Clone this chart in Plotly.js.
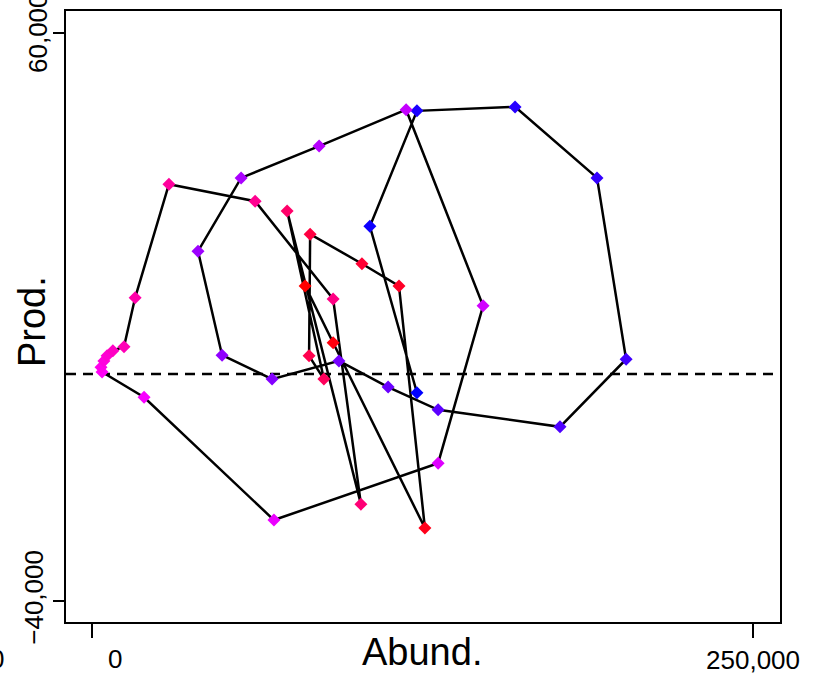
<!DOCTYPE html>
<html>
<head>
<meta charset="utf-8">
<script src="https://cdn.plot.ly/plotly-3.0.1.min.js"></script>
<style>html,body{margin:0;padding:0;background:#fff;}#chart{width:817px;height:675px;}</style>
</head>
<body>
<div id="chart"></div>
<script>
// Abundance (x) and production anomaly (y), in the order the path visits them
const abund = [122900, 105100, 122900, 160000, 191000, 202000, 177000, 130900, 112000, 93400,
               68100, 49200, 40100, 56400, 85900, 118800, 147900, 130900, 68800, 19700,
               3800, 3400, 4500, 5700, 7900, 12100, 16300, 29100, 61700, 91200,
               101700, 73800, 87700, 82100, 82500, 102100, 116100, 125900, 91200, 80600];
const prod  = [-3300, 26000, 46300, 47000, 34500, 2600, -9300, -6300, -2300, 2300,
               -900, 3300, 21600, 34500, 40100, 46500, 12000, -15700, -25700, -4100,
               350, 1200, 2300, 3200, 4100, 4800, 13400, 33400, 30400, 13200,
               -22900, 28700, -900, 3200, 24600, 19400, 15500, -27100, 5500, 15500];
const xTickVals = [0, 250000];
const xTickText = ['', '250,000'];
const yTickVals = [-40000, 60000];
const yTickText = ['\u221240,000', ''];

const order = abund.map((_, i) => i);
const font = 'Liberation Sans, Arial, sans-serif';

const trace = {
  x: abund, y: prod,
  mode: 'lines+markers',
  type: 'scatter',
  line: {color: 'black', width: 2.5},
  marker: {
    symbol: 'diamond', size: 10,
    color: order, cmin: 0, cmax: abund.length - 1,
    colorscale: [[0, 'rgb(0,0,255)'], [0.5, 'rgb(255,0,255)'], [1, 'rgb(255,0,0)']],
    line: {width: 0}
  },
  hoverinfo: 'x+y',
  showlegend: false
};

const layout = {
  width: 817, height: 675,
  margin: {l: 66, r: 37, t: 11, b: 53, pad: 0},
  paper_bgcolor: 'white', plot_bgcolor: 'white',
  font: {family: font, color: 'black', size: 26},
  xaxis: {
    range: [-9833, 260200], tickvals: xTickVals, ticktext: xTickText,
    ticks: 'outside', ticklen: 14, tickwidth: 2, tickcolor: 'black',
    showline: true, mirror: true, linewidth: 2, linecolor: 'black',
    showgrid: false, zeroline: false,
    tickfont: {family: font, size: 26, color: 'black'}
  },
  yaxis: {
    range: [-43640, 63870], tickvals: yTickVals, ticktext: yTickText,
    ticks: 'outside', ticklen: 11, tickwidth: 2, tickcolor: 'black', tickangle: -90,
    showline: true, mirror: true, linewidth: 2, linecolor: 'black',
    showgrid: false, zeroline: false,
    tickfont: {family: font, size: 26, color: 'black'}
  },
  shapes: [{
    type: 'line', xref: 'paper', x0: 0, x1: 1, yref: 'y', y0: 0, y1: 0,
    line: {color: 'black', width: 2.3, dash: '10px,7px'}, layer: 'below'
  }],
  annotations: [
    {text: 'Abund.', xref: 'paper', yref: 'paper', x: 0.4986, y: -0.049,
     xanchor: 'center', yanchor: 'middle', showarrow: false,
     font: {family: font, size: 38, color: 'black'}},
    {text: 'Prod.', xref: 'paper', yref: 'paper', x: -0.0476, y: 0.491, textangle: -90,
     xanchor: 'center', yanchor: 'middle', showarrow: false,
     font: {family: font, size: 38, color: 'black'}},
    {text: '60,000', xref: 'paper', yref: 'y', x: -0.0392, y: 60000, textangle: -90,
     xanchor: 'center', yanchor: 'middle', showarrow: false,
     font: {family: font, size: 26, color: 'black'}},
    {text: '0', xref: 'paper', yref: 'paper', x: 0.0686, y: -0.061,
     xanchor: 'center', yanchor: 'middle', showarrow: false,
     font: {family: font, size: 26, color: 'black'}},
    {text: '0', xref: 'paper', yref: 'paper', x: -0.097, y: -0.061,
     xanchor: 'center', yanchor: 'middle', showarrow: false,
     font: {family: font, size: 26, color: 'black'}}
  ]
};

Plotly.newPlot('chart', [trace], layout, {displayModeBar: false, staticPlot: true});
</script>
</body>
</html>
